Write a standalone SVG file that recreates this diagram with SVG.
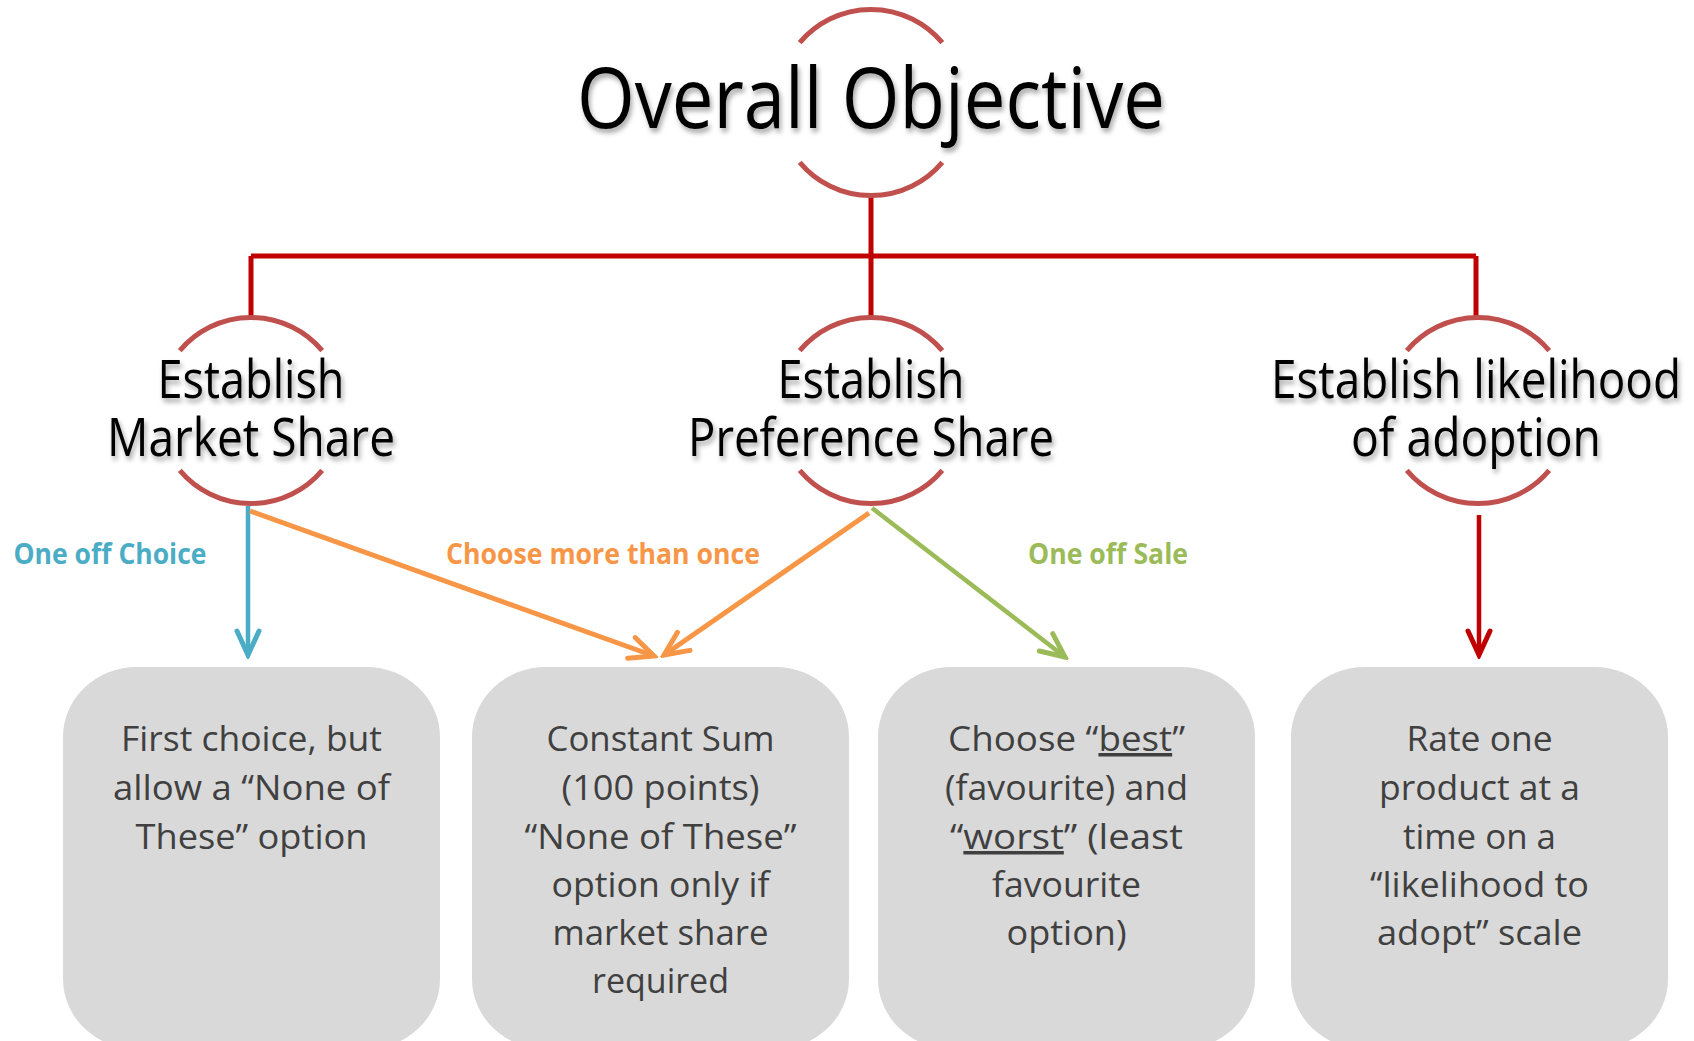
<svg xmlns="http://www.w3.org/2000/svg" width="1694" height="1041" viewBox="0 0 1694 1041">
  <defs>
    <style>
      .ring { fill: none; stroke: #C0504D; stroke-width: 5; }
      .tree { fill: none; stroke: #C00000; stroke-width: 5; }
      .head { font-family: "Open Sans", "Liberation Sans", sans-serif; fill: #000; text-anchor: middle; filter: url(#soft); }
      .big { font-size: 84px; }
      .mid { font-size: 53px; }
      .box { fill: #D9D9D9; }
      .body { font-family: "Open Sans", "Liberation Sans", sans-serif; font-size: 35px; fill: #404040; text-anchor: middle; }
      .tag { font-family: "Open Sans", "Liberation Sans", sans-serif; font-size: 29px; font-weight: bold; text-anchor: middle; }
      .u { text-decoration: underline; }
    </style>
    <filter id="soft" x="-10%" y="-20%" width="120%" height="160%">
      <feDropShadow dx="2" dy="4" stdDeviation="2.5" flood-color="#000" flood-opacity="0.35"/>
    </filter>
    <marker id="ahBlue" viewBox="-30 -15 34 30" refX="0" refY="0" markerWidth="34" markerHeight="30" markerUnits="userSpaceOnUse" orient="auto">
      <path d="M-24,-11 L0,0 L-24,11" fill="none" stroke="#4BACC6" stroke-width="5" stroke-linecap="round"/>
    </marker>
    <marker id="ahOrange" viewBox="-30 -15 34 30" refX="0" refY="0" markerWidth="34" markerHeight="30" markerUnits="userSpaceOnUse" orient="auto">
      <path d="M-24,-11 L0,0 L-24,11" fill="none" stroke="#F79646" stroke-width="5" stroke-linecap="round"/>
    </marker>
    <marker id="ahGreen" viewBox="-30 -15 34 30" refX="0" refY="0" markerWidth="34" markerHeight="30" markerUnits="userSpaceOnUse" orient="auto">
      <path d="M-24,-11 L0,0 L-24,11" fill="none" stroke="#9BBB59" stroke-width="5" stroke-linecap="round"/>
    </marker>
    <marker id="ahRed" viewBox="-30 -15 34 30" refX="0" refY="0" markerWidth="34" markerHeight="30" markerUnits="userSpaceOnUse" orient="auto">
      <path d="M-24,-11 L0,0 L-24,11" fill="none" stroke="#C00000" stroke-width="5" stroke-linecap="round"/>
    </marker>
  </defs>

  <rect width="1694" height="1041" fill="#fff"/>

  <!-- tree lines and arrows -->
  <g id="connectors">
    <path class="tree" d="M871,196 V256 M251,256 H1476 M251,256 V319 M871,256 V319 M1476,256 V319"/>
    <line x1="248" y1="506" x2="248" y2="655" stroke="#4BACC6" stroke-width="4.5" marker-end="url(#ahBlue)"/>
    <line x1="250" y1="511" x2="654" y2="656" stroke="#F79646" stroke-width="5" marker-end="url(#ahOrange)"/>
    <line x1="869" y1="513" x2="664" y2="655" stroke="#F79646" stroke-width="5" marker-end="url(#ahOrange)"/>
    <line x1="872" y1="508" x2="1065" y2="657" stroke="#9BBB59" stroke-width="4.5" marker-end="url(#ahGreen)"/>
    <line x1="1479" y1="515" x2="1479" y2="655" stroke="#C00000" stroke-width="4.5" marker-end="url(#ahRed)"/>
    <text class="tag" x="110" y="564" fill="#4BACC6" textLength="193" lengthAdjust="spacingAndGlyphs">One off Choice</text>
    <text class="tag" x="603" y="564" fill="#F79646" textLength="314" lengthAdjust="spacingAndGlyphs">Choose more than once</text>
    <text class="tag" x="1108" y="564" fill="#9BBB59" textLength="160" lengthAdjust="spacingAndGlyphs">One off Sale</text>
  </g>

  <!-- top objective -->
  <g id="overall">
    <path class="ring" d="M799.7,42.7 A93,93 0 0 1 942.3,42.7 M799.7,162.3 A93,93 0 0 0 942.3,162.3"/>
    <text class="head big" x="871" y="128" textLength="588" lengthAdjust="spacingAndGlyphs">Overall Objective</text>
  </g>

  <!-- second level goals -->
  <g id="market-share">
    <path class="ring" d="M179.8,350.7 A93,93 0 0 1 322.2,350.7 M179.8,470.3 A93,93 0 0 0 322.2,470.3"/>
    <text class="head mid" x="251" y="398" textLength="187" lengthAdjust="spacingAndGlyphs">Establish</text>
    <text class="head mid" x="251" y="456" textLength="288" lengthAdjust="spacingAndGlyphs">Market Share</text>
  </g>
  <g id="preference-share">
    <path class="ring" d="M799.7,350.7 A93,93 0 0 1 942.3,350.7 M799.7,470.3 A93,93 0 0 0 942.3,470.3"/>
    <text class="head mid" x="871" y="398" textLength="187" lengthAdjust="spacingAndGlyphs">Establish</text>
    <text class="head mid" x="871" y="456" textLength="366" lengthAdjust="spacingAndGlyphs">Preference Share</text>
  </g>
  <g id="adoption">
    <path class="ring" d="M1406.8,350.7 A93,93 0 0 1 1549.2,350.7 M1406.8,470.3 A93,93 0 0 0 1549.2,470.3"/>
    <text class="head mid" x="1476" y="398" textLength="410" lengthAdjust="spacingAndGlyphs">Establish likelihood</text>
    <text class="head mid" x="1476" y="456" textLength="250" lengthAdjust="spacingAndGlyphs">of adoption</text>
  </g>

  <!-- method boxes -->
  <g id="first-choice">
    <rect class="box" x="63" y="667" width="377" height="382" rx="74" ry="70"/>
    <text class="body" x="251.5" y="751" textLength="261" lengthAdjust="spacingAndGlyphs">First choice, but</text>
    <text class="body" x="251.5" y="800" textLength="277" lengthAdjust="spacingAndGlyphs">allow a “None of</text>
    <text class="body" x="251.5" y="849" textLength="232" lengthAdjust="spacingAndGlyphs">These” option</text>
  </g>
  <g id="constant-sum">
    <rect class="box" x="472" y="667" width="377" height="382" rx="74" ry="70"/>
    <text class="body" x="660.5" y="751" textLength="228" lengthAdjust="spacingAndGlyphs">Constant Sum</text>
    <text class="body" x="660.5" y="800" textLength="198" lengthAdjust="spacingAndGlyphs">(100 points)</text>
    <text class="body" x="660.5" y="849" textLength="272" lengthAdjust="spacingAndGlyphs">“None of These”</text>
    <text class="body" x="660.5" y="897" textLength="218" lengthAdjust="spacingAndGlyphs">option only if</text>
    <text class="body" x="660.5" y="945" textLength="216" lengthAdjust="spacingAndGlyphs">market share</text>
    <text class="body" x="660.5" y="993" textLength="137" lengthAdjust="spacingAndGlyphs">required</text>
  </g>
  <g id="best-worst">
    <rect class="box" x="878" y="667" width="377" height="382" rx="74" ry="70"/>
    <text class="body" x="1066.5" y="751" textLength="237" lengthAdjust="spacingAndGlyphs">Choose “<tspan class="u">best</tspan>”</text>
    <text class="body" x="1066.5" y="800" textLength="243" lengthAdjust="spacingAndGlyphs">(favourite) and</text>
    <text class="body" x="1066.5" y="849" textLength="233" lengthAdjust="spacingAndGlyphs">“<tspan class="u">worst</tspan>” (least</text>
    <text class="body" x="1066.5" y="897" textLength="149" lengthAdjust="spacingAndGlyphs">favourite</text>
    <text class="body" x="1066.5" y="945" textLength="120" lengthAdjust="spacingAndGlyphs">option)</text>
  </g>
  <g id="rating-scale">
    <rect class="box" x="1291" y="667" width="377" height="382" rx="74" ry="70"/>
    <text class="body" x="1479.5" y="751" textLength="146" lengthAdjust="spacingAndGlyphs">Rate one</text>
    <text class="body" x="1479.5" y="800" textLength="201" lengthAdjust="spacingAndGlyphs">product at a</text>
    <text class="body" x="1479.5" y="849" textLength="153" lengthAdjust="spacingAndGlyphs">time on a</text>
    <text class="body" x="1479.5" y="897" textLength="219" lengthAdjust="spacingAndGlyphs">“likelihood to</text>
    <text class="body" x="1479.5" y="945" textLength="205" lengthAdjust="spacingAndGlyphs">adopt” scale</text>
  </g>
</svg>
